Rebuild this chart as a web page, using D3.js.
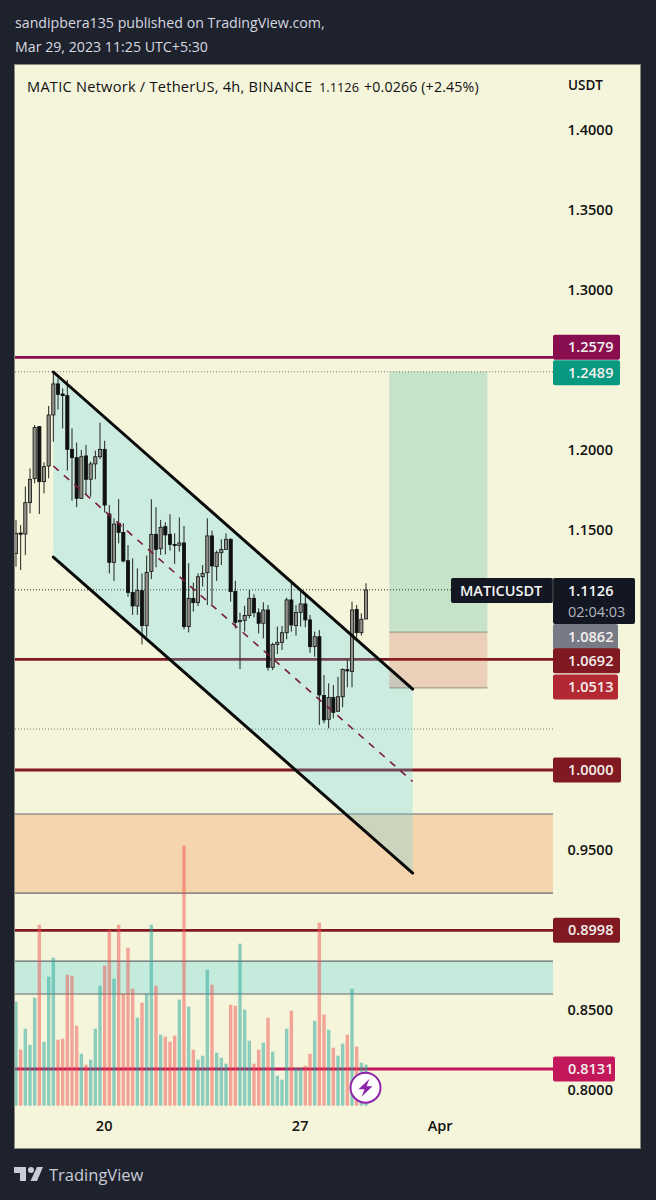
<!DOCTYPE html>
<html><head><meta charset="utf-8">
<script src="https://cdn.jsdelivr.net/npm/d3@7/dist/d3.min.js"></script>
<style>html,body{margin:0;padding:0;background:#1e222d}svg{display:block}text{font-family:"Open Sans",Lato,sans-serif}</style>
</head><body><div id="c"></div>
<script>
const opens=[1.1354,1.1481,1.1475,1.1671,1.1821,1.2146,1.1802,1.1900,1.2219,1.2413,1.2350,1.2340,1.2004,1.1952,1.1698,1.1963,1.1817,1.1913,1.1958,1.2004,1.1600,1.1298,1.1542,1.1485,1.1308,1.1110,1.1025,1.1121,1.0902,1.1240,1.1473,1.1383,1.1521,1.1473,1.1410,1.1404,1.1419,1.0896,1.1073,1.1046,1.1208,1.1233,1.1463,1.1271,1.1358,1.1379,1.1442,1.1115,1.0927,1.0935,1.0965,1.1073,1.0983,1.0917,1.1000,1.0642,1.0785,1.0798,1.0858,1.1063,1.0902,1.0985,1.1038,1.0938,1.0771,1.0833,1.0465,1.0317,1.0454,1.0367,1.0458,1.0627,1.0615,1.1004,1.0858,1.0944];
const closes=[1.1479,1.1473,1.1671,1.1817,1.2140,1.1802,1.1896,1.2219,1.2413,1.2348,1.2340,1.2004,1.1952,1.1698,1.1958,1.1817,1.1913,1.1958,1.2004,1.1656,1.1298,1.1537,1.1485,1.1306,1.1110,1.1025,1.1121,1.0902,1.1235,1.1473,1.1379,1.1517,1.1469,1.1410,1.1404,1.1419,1.0896,1.1073,1.1046,1.1208,1.1229,1.1463,1.1275,1.1358,1.1379,1.1442,1.1115,1.0923,1.0935,1.0965,1.1073,1.0983,1.0917,1.1000,1.0642,1.0785,1.0798,1.0858,1.1063,1.0906,1.0985,1.1038,1.0938,1.0771,1.0833,1.0469,1.0313,1.0454,1.0360,1.0458,1.0629,1.0619,1.1000,1.0858,1.0942,1.1125];
const highs=[1.1563,1.1531,1.1771,1.1885,1.2156,1.2150,1.1923,1.2275,1.2490,1.2448,1.2385,1.2438,1.2135,1.2046,1.2000,1.2031,1.1927,1.1996,1.2171,1.2058,1.1656,1.1573,1.1694,1.1542,1.1406,1.1323,1.1260,1.1229,1.1340,1.1692,1.1642,1.1563,1.1548,1.1598,1.1479,1.1579,1.1525,1.1292,1.1171,1.1229,1.1281,1.1573,1.1496,1.1371,1.1442,1.1479,1.1448,1.1183,1.0983,1.1027,1.1125,1.1098,1.1010,1.1048,1.1031,1.0796,1.0896,1.0900,1.1077,1.1188,1.1031,1.1121,1.1094,1.0969,1.0865,1.0875,1.0594,1.0542,1.0531,1.0583,1.0635,1.0688,1.1052,1.1031,1.0979,1.1167];
const lows=[1.1271,1.1250,1.1344,1.1604,1.1792,1.1600,1.1729,1.1823,1.2052,1.2254,1.2135,1.1871,1.1683,1.1642,1.1694,1.1723,1.1708,1.1817,1.1942,1.1610,1.1229,1.1181,1.1417,1.1298,1.1083,1.0969,1.0969,1.0785,1.0833,1.1194,1.1267,1.1344,1.1348,1.1371,1.1288,1.1365,1.0879,1.0860,1.0990,1.1025,1.1146,1.1031,1.1037,1.1181,1.1281,1.1375,1.1052,1.0885,1.0631,1.0865,1.0948,1.0954,1.0854,1.0823,1.0621,1.0625,1.0725,1.0750,1.0817,1.0865,1.0840,1.0896,1.0892,1.0733,1.0708,1.0281,1.0292,1.0260,1.0323,1.0365,1.0392,1.0517,1.0517,1.0829,1.0840,1.0944];
const volumes=[10.4,5.6,7.7,6.1,10.8,18.1,6.4,12.9,14.8,6.6,6.7,13.1,13.0,8.0,5.2,4.1,4.6,7.7,12.0,14.0,17.6,12.7,18.1,11.2,15.8,11.7,8.8,10.3,11.2,18.1,12.0,7.1,6.9,6.4,7.0,10.6,26.0,9.9,5.6,4.6,5.0,13.6,12.1,5.3,4.8,4.2,10.1,10.0,16.2,9.6,6.5,4.2,5.6,6.3,8.8,5.4,3.0,2.6,7.7,9.5,3.8,3.8,4.0,5.2,8.5,18.3,9.1,7.6,5.8,5.0,6.2,7.1,11.7,5.9,4.3,4.1];

const priceTicks=[1.4,1.35,1.3,1.2,1.15,0.95,0.85,0.8];
const timeTickIndex=[19,61,91];
const timeTickLabels=["20","27","Apr"];
const levelPrices=[1.2579,1.0692,1.0,0.8998,0.8131];
const dottedPrices=[1.2489,1.1126,1.0256];
const zonePrices=[[0.9725,0.9231],[0.8806,0.8600]];
const channelIndex=[8,85];
const channelTop=[1.24875,1.0506];
const channelMid=[1.1900,0.9928];
const channelBottom=[1.1331,0.9356];
const longIndex=[80,101];
const longPrices=[1.2489,1.0862,1.0513];
const pillPrices=[1.2579,1.2489,1.0862,1.0692,1.0513,1.0,0.8998,0.8131];
const pillText=["1.2579","1.2489","1.0862","1.0692","1.0513","1.0000","0.8998","0.8131"];
const pillColors=["#880e4f","#089981","#787b86","#801922","#b22833","#801922","#801922","#c2185b"];
const pillWidths=[67,67,65,67,65,68,67,62];
const pillShift=[-10,1,4.5,1.5,-1,0,0,0];

const W=656,H=1200;
const svg=d3.select("#c").append("svg").attr("width",W).attr("height",H);
svg.append("rect").attr("width",W).attr("height",H).attr("fill","#1e222d");
const pane={l:14.5,t:64.5,r:640.5,b:1148.5,axis:553};
svg.append("rect").attr("x",pane.l).attr("y",pane.t).attr("width",pane.r-pane.l).attr("height",pane.b-pane.t).attr("fill","#f5f5dc").attr("stroke","#8a8a80").attr("stroke-width",1);
svg.append("clipPath").attr("id","pl").append("rect").attr("x",15).attr("y",65).attr("width",538).attr("height",1040.5);
svg.append("clipPath").attr("id","pv").append("rect").attr("x",15).attr("y",65).attr("width",538).attr("height",1041);

const x=d3.scaleLinear().domain([0,75]).range([16,366]);
const y=d3.scaleLinear().domain([0.8,1.4]).range([1090,130]);
const yv=d3.scaleLinear().domain([0,26]).range([1105.7,845.7]);
const plot=svg.append("g").attr("clip-path","url(#pl)");

// zones
plot.selectAll(".zone").data(zonePrices).join("rect").attr("x",15).attr("width",538)
  .attr("y",d=>y(d[0])).attr("height",d=>y(d[1])-y(d[0]))
  .attr("fill",(d,i)=>i?"#c4ebdc":"#f5d5ae");
zonePrices.flat().forEach(p=>plot.append("line").attr("x1",15).attr("x2",553).attr("y1",y(p)).attr("y2",y(p)).attr("stroke","#666a6e").attr("stroke-width",1.2));

// levels
plot.selectAll(".lvl").data(levelPrices).join("line").attr("x1",15).attr("x2",553)
  .attr("y1",d=>y(d)).attr("y2",d=>y(d)).attr("stroke-width",(d,i)=>i==4?3:2.8)
  .attr("stroke",(d,i)=>["#880e4f","#801922","#801922","#801922","#c2185b"][i]);

// dotted
plot.selectAll(".dot").data(dottedPrices).join("line").attr("x1",15).attr("x2",553)
  .attr("y1",d=>y(d)).attr("y2",d=>y(d)).attr("stroke",(d,i)=>i==1?"#222":"#777")
  .attr("stroke-width",1).attr("stroke-dasharray","1 2");

// channel
const poly=[[channelIndex[0],channelTop[0]],[channelIndex[1],channelTop[1]],[channelIndex[1],channelBottom[1]],[channelIndex[0],channelBottom[0]]];
plot.append("path").attr("d",d3.line().x(d=>x(d[0])).y(d=>y(d[1]))(poly)+"Z").attr("fill","rgba(84,212,236,0.25)");

// long position
plot.append("rect").attr("x",x(longIndex[0])).attr("width",x(longIndex[1])-x(longIndex[0])).attr("y",y(longPrices[0])).attr("height",y(longPrices[1])-y(longPrices[0])).attr("fill","rgba(8,153,129,0.2)");
plot.append("rect").attr("x",x(longIndex[0])).attr("width",x(longIndex[1])-x(longIndex[0])).attr("y",y(longPrices[1])).attr("height",y(longPrices[2])-y(longPrices[1])).attr("fill","rgba(190,60,40,0.2)");
[longPrices[1],longPrices[2]].forEach(p=>plot.append("line").attr("x1",x(longIndex[0])).attr("x2",x(longIndex[1])).attr("y1",y(p)).attr("y2",y(p)).attr("stroke","#8f8f84").attr("stroke-width",1));

// volumes
svg.append("g").attr("clip-path","url(#pv)").selectAll("rect").data(volumes).join("rect")
  .attr("x",(d,i)=>x(i)-1.7).attr("width",3.4).attr("y",d=>yv(d)).attr("height",d=>yv(0)-yv(d))
  .attr("fill",(d,i)=>closes[i]>=opens[i]?"rgba(38,166,154,0.5)":"rgba(239,83,80,0.5)");

// candles
const cs=plot.selectAll(".c").data(d3.range(opens.length)).join("g");
cs.append("line").attr("x1",i=>x(i)).attr("x2",i=>x(i)).attr("y1",i=>y(highs[i])).attr("y2",i=>y(lows[i])).attr("stroke","#222").attr("stroke-width",1);
cs.append("rect").attr("x",i=>x(i)-1.6).attr("width",3.2)
  .attr("y",i=>y(Math.max(opens[i],closes[i]))).attr("height",i=>Math.max(1,Math.abs(y(opens[i])-y(closes[i]))))
  .attr("fill",i=>closes[i]>=opens[i]?"#8f8f88":"#111").attr("stroke","#111").attr("stroke-width",.8);

// channel lines
const ln=(a,b)=>plot.append("line").attr("x1",x(channelIndex[0])).attr("x2",x(channelIndex[1])).attr("y1",y(a)).attr("y2",y(b));
ln(channelTop[0],channelTop[1]).attr("stroke","#0a0a0a").attr("stroke-width",3).attr("stroke-linecap","round");
ln(channelBottom[0],channelBottom[1]).attr("stroke","#0a0a0a").attr("stroke-width",3).attr("stroke-linecap","round");
ln(channelMid[0],channelMid[1]).attr("stroke","#7a1a3a").attr("stroke-width",1.6).attr("stroke-dasharray","7 7");

// axes
const fs=14.5;
const ay=svg.append("g").attr("transform","translate(567.5,-0.5)").call(d3.axisRight(y).tickValues(priceTicks).tickSize(0).tickPadding(0).tickFormat(d3.format(".4f")));
ay.select(".domain").remove();
ay.selectAll("text").attr("fill","#111").attr("font-size",fs).attr("font-weight",600).style("font-family",'"Open Sans",sans-serif');
const ax=svg.append("g").attr("transform","translate(-1,1105)").call(d3.axisBottom(x).tickValues(timeTickIndex).tickSize(0).tickPadding(16).tickFormat((d,i)=>timeTickLabels[i]));
ax.select(".domain").remove();
ax.selectAll("text").attr("fill","#111").attr("font-size",fs).attr("font-weight",600).style("font-family",'"Open Sans",sans-serif');

// pills
pillPrices.forEach((p,i)=>{
  const cy=y(p)+pillShift[i];
  svg.append("rect").attr("x",553).attr("y",cy-12.5).attr("width",pillWidths[i]).attr("height",25).attr("rx",2).attr("fill",pillColors[i]);
  svg.append("text").attr("x",568).attr("y",cy+5).attr("fill","#f4f0ee").attr("font-size",fs).attr("font-weight",600).text(pillText[i]);
});
svg.append("rect").attr("x",451).attr("y",578).attr("width",102).attr("height",25).attr("rx",2).attr("fill","#131722");
svg.append("rect").attr("x",553).attr("y",578).attr("width",82).attr("height",46).attr("rx",2).attr("fill","#131722");
svg.append("line").attr("x1",553).attr("x2",553).attr("y1",578).attr("y2",603).attr("stroke","#555");
svg.append("text").attr("x",460).attr("y",596).attr("fill","#f5f5f5").attr("font-size",14.5).attr("font-weight",600).text("MATICUSDT");
svg.append("text").attr("x",568).attr("y",596).attr("fill","#f5f5f5").attr("font-size",fs).attr("font-weight",600).text("1.1126");
svg.append("text").attr("x",568).attr("y",617).attr("fill","#b2b5be").attr("font-size",fs).text("02:04:03");

// headers
svg.append("text").attr("x",15).attr("y",28).attr("fill","#d6d8e0").attr("font-size",14.2).attr("font-weight",500).text("sandipbera135 published on TradingView.com,");
svg.append("text").attr("x",15).attr("y",52).attr("fill","#d6d8e0").attr("font-size",14.2).attr("font-weight",500).text("Mar 29, 2023 11:25 UTC+5:30");
svg.append("text").attr("x",27).attr("y",92).attr("fill","#111").attr("font-size",14.6).attr("font-weight",500).attr("letter-spacing",0.25).text("MATIC Network / TetherUS, 4h, BINANCE");
svg.append("text").attr("x",319).attr("y",92).attr("fill","#111").attr("font-size",12.8).text("1.1126");
svg.append("text").attr("x",364).attr("y",92).attr("fill","#111").attr("font-size",14.2).attr("letter-spacing",0.15).text("+0.0266 (+2.45%)");
svg.append("text").attr("x",568).attr("y",90).attr("fill","#111").attr("font-size",13.5).attr("font-weight",600).text("USDT");

// flash badge
const b=svg.append("g").attr("transform","translate(365.5,1087.7)");
b.append("circle").attr("r",15).attr("fill","#fff").attr("stroke","#8e24aa").attr("stroke-width",2);
b.append("path").attr("d","M4,-9 L-7,1.5 L-1,1.5 L-4,9 L7,-1.5 L1,-1.5 Z").attr("fill","#8e24aa");

// logo
const g=svg.append("g").attr("fill","#c8ccd8").attr("transform","translate(14,1167)");
g.append("path").attr("d","M0,0 H12 V14 H6 V6 H0 Z");
g.append("circle").attr("cx",17).attr("cy",3).attr("r",3);
g.append("path").attr("d","M23,0 H29 L23,14 H16.5 Z");
svg.append("text").attr("x",49).attr("y",1181).attr("fill","#c8ccd8").attr("font-size",16.5).attr("font-weight",500).text("TradingView");
</script></body></html>
